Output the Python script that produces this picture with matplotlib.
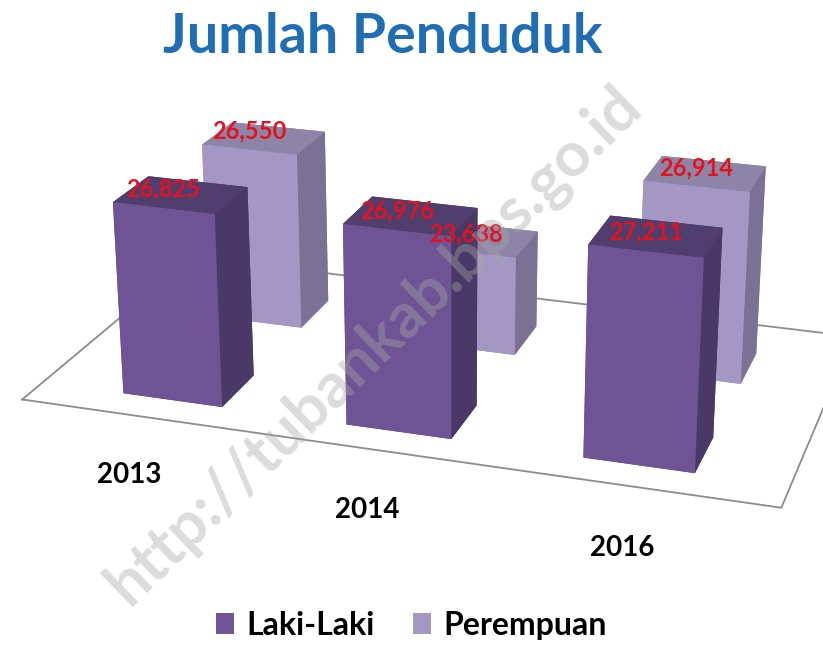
import numpy as np
import matplotlib.pyplot as plt
from matplotlib.patches import Patch

plt.rcParams['font.family'] = ['Lato', 'DejaVu Sans']

years = ['2013', '2014', '2016']
series = ['Laki-Laki', 'Perempuan']
laki = [26825, 26976, 27211]
perempuan = [26550, 23638, 26914]

z_min, z_max = 20000, 28000

# face colours in bar3d order: bottom, top, front, back, left, right
laki_faces = ['#4a3a6e', '#4f3e6e', '#6e5494', '#4a3a6e', '#6e5494', '#4a3966']
perem_faces = ['#8a7fa5', '#8e84a8', '#a597c4', '#8a7fa5', '#a597c4', '#7a7194']

fig = plt.figure(figsize=(8.23, 6.52), dpi=100)
ax = fig.add_axes([-0.068, -0.155, 1.2, 1.476], projection='3d')
ax.set_proj_type('persp', focal_length=0.45)
ax.view_init(elev=21, azim=-72)

w, d = 0.45, 0.38
xs = np.arange(len(years))
bx = np.concatenate([xs, xs]) - w / 2
by = np.concatenate([np.zeros(3), np.ones(3)]) - d / 2
vals = np.array(laki + perempuan)
cols = laki_faces * 3 + perem_faces * 3
ax.bar3d(bx, by, np.full(6, z_min), w, d, vals - z_min, color=cols, shade=False,
         edgecolor='none')

ax.set_xlim(-0.6, 2.6)
ax.set_ylim(-0.4, 1.55)
ax.set_zlim(z_min, z_max)
ax.set_box_aspect((3.2, 1.75, 1.0), zoom=0.9)

ax.set_xticks([])
ax.set_yticks([])
ax.set_zticks([])
ax.grid(False)
for a in (ax.xaxis, ax.yaxis, ax.zaxis):
    a.pane.set_edgecolor((1, 1, 1, 0))
    a.line.set_color((1, 1, 1, 0))
    a.label.set_visible(False)
    a.offsetText.set_visible(False)
ax.xaxis.set_pane_color((1, 1, 1, 0))
ax.yaxis.set_pane_color((1, 1, 1, 0))
ax.zaxis.set_pane_color((1, 1, 1, 1))

# outline of the floor, all four sides
x0, x1 = ax.get_xlim()
y0, y1 = ax.get_ylim()
ax.plot([x0, x1, x1, x0, x0], [y0, y0, y1, y1, y0], z_min, color='#8c8c8c',
        lw=1.3, zorder=2, clip_on=False)

# data labels
for i, v in enumerate(laki):
    ax.text(xs[i], -d / 2, v + 250, f'{v:,}', color='#e3121e', fontsize=17,
            fontweight='bold', ha='center', va='bottom', zorder=100)
for i, v in enumerate(perempuan):
    ax.text(xs[i], 1 - d / 2, v + 250, f'{v:,}', color='#e3121e', fontsize=17,
            fontweight='bold', ha='center', va='bottom', zorder=100)

# category labels in front of the floor
for i, yr in enumerate(years):
    ax.text(xs[i] + 0.08, -0.85, z_min, yr, fontsize=20, fontweight='bold',
            ha='center', va='top', zorder=100)

fig.text(0.465, 0.943, 'Jumlah Penduduk', color='#1f6db5', fontsize=40,
         fontweight='bold', ha='center', va='center')

handles = [Patch(facecolor=laki_faces[2], label=series[0]),
           Patch(facecolor=perem_faces[2], label=series[1])]
fig.legend(handles=handles, loc='lower center', ncol=2, frameon=False,
           bbox_to_anchor=(0.5, -0.025), prop={'size': 23, 'weight': 'bold'},
           handlelength=0.55, handleheight=0.65, handletextpad=0.4,
           columnspacing=1.2)

fig.text(0.455, 0.47, 'http://tubankab.bps.go.id', rotation=44, color='#a8a8a8',
         alpha=0.4, fontsize=45, fontweight='bold', ha='center', va='center',
         zorder=200)

fig.savefig('out.png', dpi=100)
